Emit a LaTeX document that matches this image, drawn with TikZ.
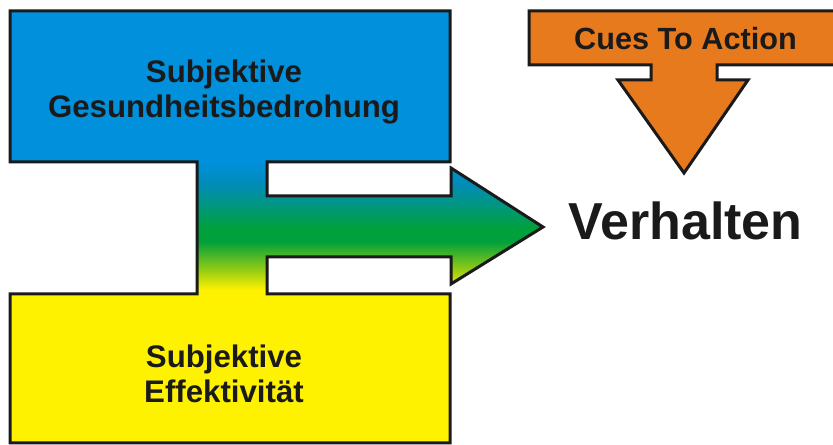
\documentclass[tikz,border=0pt]{standalone}
\usepackage{fontspec}
\setmainfont{Liberation Sans}
\definecolor{blueA}{RGB}{0,144,220}
\definecolor{tealblue}{RGB}{0,140,185}
\definecolor{tealA}{RGB}{0,150,130}
\definecolor{grA}{RGB}{0,160,60}
\definecolor{ylgr}{RGB}{150,205,20}
\definecolor{yelA}{RGB}{255,242,0}
\definecolor{orA}{RGB}{232,122,30}
\definecolor{inkA}{RGB}{26,26,26}
\pgfdeclareverticalshading{midgrad}{100bp}{color(0bp)=(yelA); color(26.5bp)=(yelA); color(34bp)=(ylgr); color(45bp)=(grA); color(50bp)=(grA); color(59bp)=(tealA); color(67bp)=(tealblue); color(75bp)=(blueA); color(100bp)=(blueA)}
\tikzset{
  outline/.style={draw=inkA, line width=2.25pt, line join=miter},
  lbl/.style={font=\bfseries\fontsize{23.4}{26.25}\selectfont, text=inkA, align=center, inner sep=0pt},
}
\newcommand{\mainshape}{(10,11) -- (450,11) -- (450,162) -- (267,162) -- (267,196) -- (451,196) -- (451,168) -- (543,227) -- (451,284) -- (451,257) -- (267,257) -- (267,294) -- (450,294) -- (450,443) -- (10,443) -- (10,294) -- (197,294) -- (197,162) -- (10,162) -- cycle}
\begin{document}
\begin{tikzpicture}[x=0.75pt,y=-0.75pt]
\useasboundingbox (0,0) rectangle (833,445);
\fill[white] (0,0) rectangle (833,445);
\begin{scope}
  \clip \mainshape;
  \fill[blueA] (0,0) rectangle (833,162);
  \shade[shading=midgrad] (0,162) rectangle (560,294);
  \fill[yelA] (0,294) rectangle (833,450);
\end{scope}
\draw[outline] \mainshape;
\draw[outline, fill=orA] (529,11) -- (845,11) -- (845,65) -- (717,65) -- (717,80) -- (748,80) -- (684,173) -- (618,80) -- (651,80) -- (651,65) -- (529,65) -- cycle;
\node[lbl] (threat) at (224,92) {Subjektive\\Gesundheitsbedrohung};
\node[lbl] (effect) at (224,374) {Subjektive\\Effektivität};
\node[lbl, anchor=base, font=\bfseries\fontsize{23}{26}\selectfont] (cues) at (685.5,50) {Cues To Action};
\node[lbl, anchor=base, font=\bfseries\fontsize{39}{44}\selectfont] (verh) at (685.5,240) {Verhalten};
\end{tikzpicture}
\end{document}
